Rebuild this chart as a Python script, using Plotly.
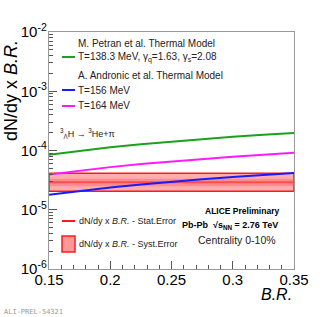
import plotly.graph_objects as go

# ---- data ----
br = [0.15, 0.175, 0.2, 0.225, 0.25, 0.275, 0.3, 0.325, 0.35]
petran_138 = [8.5e-5, 9.9e-5, 1.13e-4, 1.27e-4, 1.41e-4, 1.55e-4, 1.70e-4, 1.84e-4, 1.97e-4]
andronic_164 = [3.93e-5, 4.59e-5, 5.24e-5, 5.90e-5, 6.55e-5, 7.20e-5, 7.86e-5, 8.50e-5, 9.17e-5]
andronic_156 = [1.79e-5, 2.08e-5, 2.38e-5, 2.68e-5, 2.98e-5, 3.27e-5, 3.57e-5, 3.87e-5, 4.17e-5]

br_range = [0.15, 0.35]
meas_value = 2.9e-5
stat_lo, stat_hi = 2.5e-5, 3.35e-5
syst_lo, syst_hi = 2.05e-5, 4.12e-5

x_ticks = [0.15, 0.2, 0.25, 0.3, 0.35]
x_tick_labels = ["0.15", "0.2", "0.25", "0.3", "0.35"]
y_ticks = [1e-6, 1e-5, 1e-4, 1e-3, 1e-2]
y_tick_labels = ["10<sup>-6</sup>", "10<sup>-5</sup>", "10<sup>-4</sup>", "10<sup>-3</sup>", "10<sup>-2</sup>"]
y_minor_ticks = [m * d for d in y_ticks[:-1] for m in range(2, 10)]

FONT = "Liberation Sans, Arial, Helvetica, sans-serif"
NARROW = "Liberation Sans Narrow, Liberation Sans, Arial, sans-serif"

fig = go.Figure()

# systematic box
fig.add_trace(go.Scatter(
    x=[br_range[0], br_range[1], br_range[1], br_range[0], br_range[0]],
    y=[syst_lo, syst_lo, syst_hi, syst_hi, syst_lo],
    mode="lines", fill="toself", fillcolor="rgba(255,0,0,0.32)",
    line=dict(color="#ff1a1a", width=1.5), showlegend=False, hoverinfo="skip"))
# statistical band
fig.add_trace(go.Scatter(
    x=[br_range[0], br_range[1], br_range[1], br_range[0], br_range[0]],
    y=[stat_lo, stat_lo, stat_hi, stat_hi, stat_lo],
    mode="lines", fill="toself", fillcolor="rgba(255,80,80,0.35)",
    line=dict(width=0), showlegend=False, hoverinfo="skip"))
fig.add_trace(go.Scatter(
    x=br_range, y=[meas_value, meas_value], mode="lines",
    line=dict(color="rgba(255,60,60,0.8)", width=2), showlegend=False, hoverinfo="skip"))

# model lines
fig.add_trace(go.Scatter(x=br, y=petran_138, mode="lines",
                         line=dict(color="#1aa31a", width=2), showlegend=False))
fig.add_trace(go.Scatter(x=br, y=andronic_164, mode="lines",
                         line=dict(color="#ff1aff", width=2), showlegend=False))
fig.add_trace(go.Scatter(x=br, y=andronic_156, mode="lines",
                         line=dict(color="#1a1aff", width=2), showlegend=False))

fig.update_xaxes(
    range=br_range, tickvals=x_ticks, ticktext=x_tick_labels,
    ticks="inside", ticklen=8, tickcolor="#555", tickwidth=1,
    minor=dict(dtick=0.01, ticks="inside", ticklen=4, tickcolor="#555"),
    showgrid=False, zeroline=False,
    showline=True, linecolor="#999", linewidth=1.2, mirror=True,
    tickfont=dict(family=FONT, size=15, color="black"),
    ticklabelstandoff=-3,
)
fig.update_yaxes(
    type="log", range=[-6, -2], tickvals=y_ticks, ticktext=y_tick_labels,
    ticks="inside", ticklen=8, tickcolor="#555",
    minor=dict(tickmode="array", tickvals=y_minor_ticks, ticks="inside", ticklen=4, tickcolor="#555"),
    showgrid=False, zeroline=False,
    showline=True, linecolor="#999", linewidth=1.2, mirror=True,
    tickfont=dict(family=FONT, size=15, color="black"),
    ticklabelstandoff=-2,
)

ann = []
def txt(x, y, s, size=10, anchor="left", bold=False, color="#222", family=FONT):
    ann.append(dict(x=x, y=y, xref="paper", yref="paper", text=("<b>%s</b>" % s if bold else s),
                    showarrow=False, xanchor=anchor, yanchor="middle",
                    font=dict(family=family, size=size, color=color)))

# pixel -> paper conversion
L, R, T, B = 49, 294, 32, 269
def px(x):
    return (x - L) / (R - L)
def py(y):
    return (B - y) / (B - T)

txt(px(76), py(43), "M. Petran et al. Thermal Model")
txt(px(76), py(57), "T=138.3 MeV, γ<sub>q</sub>=1.63, γ<sub>s</sub>=2.08")
txt(px(76), py(75), "A. Andronic et al. Thermal Model")
txt(px(76), py(90), "T=156 MeV")
txt(px(76), py(106), "T=164 MeV")
txt(px(58), py(133), "<sup>3</sup><sub>Λ</sub>H → <sup>3</sup>He+π", size=9)
txt(px(77), py(221), "dN/dy x <i>B.R.</i> - Stat.Error", size=9, family=NARROW)
txt(px(77), py(244), "dN/dy x <i>B.R.</i> - Syst.Error", size=9, family=NARROW)
txt(px(242), py(211), "ALICE Preliminary", size=8.5, anchor="center", bold=True, color="black")
txt(px(230), py(225), "Pb-Pb  √s<sub>NN</sub> = 2.76 TeV", size=9, anchor="center", bold=True, color="black")
txt(px(237), py(240), "Centrality 0-10%", size=10.5, anchor="center")

# axis titles
ann.append(dict(x=px(294), y=py(294), xref="paper", yref="paper", text="<i>B.R.</i>",
                showarrow=False, xanchor="right", yanchor="middle",
                font=dict(family=FONT, size=16, color="black")))
ann.append(dict(x=px(11), y=py(91), xref="paper", yref="paper", text="dN/dy x <i>B.R.</i>",
                showarrow=False, xanchor="center", yanchor="middle", textangle=-90,
                font=dict(family=FONT, size=18, color="black")))
ann.append(dict(x=px(2), y=py(312), xref="paper", yref="paper", text="ALI-PREL-54321",
                showarrow=False, xanchor="left", yanchor="middle",
                font=dict(family="DejaVu Sans Mono, monospace", size=7, color="#999")))

shapes = [
    dict(type="line", xref="paper", yref="paper", x0=px(62), x1=px(75), y0=py(57), y1=py(57),
         line=dict(color="#1aa31a", width=2)),
    dict(type="line", xref="paper", yref="paper", x0=px(62), x1=px(75), y0=py(90), y1=py(90),
         line=dict(color="#1a1aff", width=2)),
    dict(type="line", xref="paper", yref="paper", x0=px(62), x1=px(75), y0=py(106), y1=py(106),
         line=dict(color="#ff1aff", width=2)),
    dict(type="line", xref="paper", yref="paper", x0=px(62), x1=px(75), y0=py(221), y1=py(221),
         line=dict(color="#ff1a1a", width=2)),
    dict(type="rect", xref="paper", yref="paper", x0=px(62), x1=px(75), y0=py(252), y1=py(236),
         fillcolor="#ff9999", line=dict(color="#ff1a1a", width=1.5)),
]

fig.update_layout(
    width=327, height=317,
    margin=dict(l=L, r=327 - R, t=T, b=317 - B),
    paper_bgcolor="white", plot_bgcolor="white",
    annotations=ann, shapes=shapes, showlegend=False, hovermode=False,
)

fig.write_html("out.html", config={"displayModeBar": False, "staticPlot": True},
               post_script="document.body.style.margin='0';document.body.style.overflow='hidden';")
